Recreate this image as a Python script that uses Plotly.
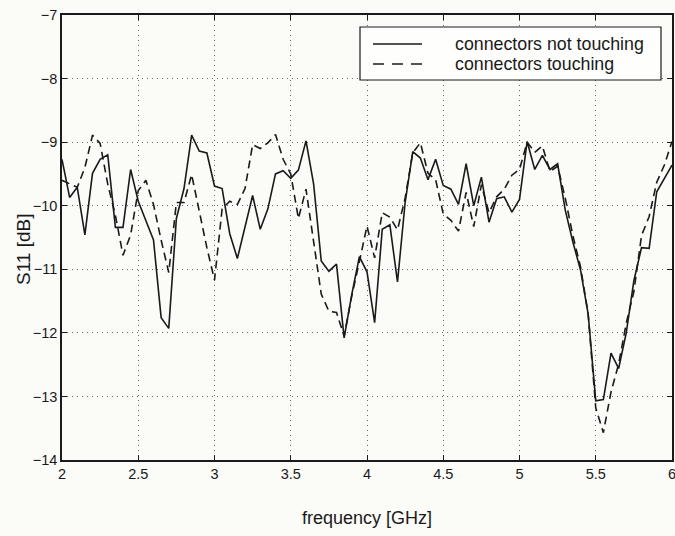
import plotly.graph_objects as go

freq_ghz = [2.00, 2.05, 2.10, 2.15, 2.20, 2.25, 2.30, 2.35, 2.40, 2.45,
            2.50, 2.55, 2.60, 2.65, 2.70, 2.75, 2.80, 2.85, 2.90, 2.95,
            3.00, 3.05, 3.10, 3.15, 3.20, 3.25, 3.30, 3.35, 3.40, 3.45,
            3.50, 3.55, 3.60, 3.65, 3.70, 3.75, 3.80, 3.85, 3.90, 3.95,
            4.00, 4.05, 4.10, 4.15, 4.20, 4.25, 4.30, 4.35, 4.40, 4.45,
            4.50, 4.55, 4.60, 4.65, 4.70, 4.75, 4.80, 4.85, 4.90, 4.95,
            5.00, 5.05, 5.10, 5.15, 5.20, 5.25, 5.30, 5.35, 5.40, 5.45,
            5.50, 5.55, 5.60, 5.65, 5.70, 5.75, 5.80, 5.85, 5.90, 5.95,
            6.00]

s11_not_touching = [-9.27, -9.87, -9.71, -10.46, -9.49, -9.27, -9.20, -10.34, -10.34, -9.43,
                    -9.93, -10.22, -10.54, -11.76, -11.93, -10.20, -9.73, -8.89, -9.14, -9.17,
                    -9.69, -9.73, -10.44, -10.83, -10.34, -9.84, -10.37, -10.05, -9.50, -9.45,
                    -9.57, -9.44, -8.98, -9.66, -10.87, -11.03, -10.92, -12.08, -11.40, -10.80,
                    -11.04, -11.84, -10.37, -10.30, -11.20, -9.95, -9.15, -9.25, -9.59, -9.27,
                    -9.68, -9.74, -9.98, -9.34, -10.00, -9.55, -10.26, -9.89, -9.86, -10.10,
                    -9.90, -8.99, -9.43, -9.21, -9.43, -9.34, -10.07, -10.57, -11.01, -11.70,
                    -13.07, -13.05, -12.32, -12.56, -12.00, -11.18, -10.66, -10.67, -9.78, -9.56,
                    -9.36]

s11_touching = [-9.60, -9.65, -9.71, -9.40, -8.89, -9.02, -9.66, -10.15, -10.78, -10.46,
                -9.76, -9.60, -9.98, -10.54, -11.05, -9.95, -9.95, -9.51, -10.10, -10.66,
                -11.17, -10.05, -9.93, -9.98, -9.73, -9.04, -9.10, -9.01, -8.88, -9.27,
                -9.50, -10.20, -9.74, -10.55, -11.39, -11.66, -11.68, -12.05, -11.42, -10.88,
                -10.32, -10.82, -10.11, -10.18, -10.38, -9.88, -9.17, -9.01, -9.49, -9.59,
                -10.13, -10.23, -10.40, -9.79, -10.33, -9.67, -10.11, -9.86, -9.74, -9.52,
                -9.43, -9.00, -9.16, -9.06, -9.46, -9.38, -9.88, -10.47, -10.96, -11.70,
                -13.18, -13.57, -12.93, -12.49, -11.85, -11.35, -10.47, -10.17, -9.63, -9.36,
                -8.99]

x_ticks = [2, 2.5, 3, 3.5, 4, 4.5, 5, 5.5, 6]
x_tick_text = ["2", "2.5", "3", "3.5", "4", "4.5", "5", "5.5", "6"]
y_ticks = [-14, -13, -12, -11, -10, -9, -8, -7]
y_tick_text = ["\u221214", "\u221213", "\u221212", "\u221211", "\u221210", "\u22129", "\u22128", "\u22127"]

series_names = ["connectors not touching", "connectors touching"]

BG = "#fbfbf7"
INK = "#1a1a1a"
FONT = "Liberation Sans, Arial, sans-serif"
DATA_DASH = "8px,5px"
LEGEND_DASH = "11px,8px"

# page geometry (pixels)
W, H = 675, 536
ML, MR, MT, MB = 62, 3, 15, 76
PW, PH = W - ML - MR, H - MT - MB


def px_x(px):
    return (px - ML) / PW


def px_y(py):
    return 1 - (py - MT) / PH


fig = go.Figure()
fig.add_trace(go.Scatter(
    x=freq_ghz, y=s11_not_touching, mode="lines",
    name=series_names[0], showlegend=False,
    line=dict(color=INK, width=1.6),
))
fig.add_trace(go.Scatter(
    x=freq_ghz, y=s11_touching, mode="lines",
    name=series_names[1], showlegend=False,
    line=dict(color=INK, width=1.6, dash=DATA_DASH),
))

axis_common = dict(
    showline=True, linecolor=INK, linewidth=1.5, mirror="allticks",
    ticks="inside", ticklen=5, tickwidth=1, tickcolor=INK,
    showgrid=True, gridcolor="#666666", gridwidth=1, griddash="1px,4px",
    zeroline=False, ticklabeloverflow="allow",
    tickfont=dict(family=FONT, size=14.5, color=INK),
)

fig.update_xaxes(
    range=[2, 6], tickvals=x_ticks, ticktext=x_tick_text,
    title=dict(text="frequency [GHz]", font=dict(family=FONT, size=18, color=INK), standoff=30),
    **axis_common,
)
fig.update_yaxes(
    range=[-14, -7], tickvals=y_ticks, ticktext=y_tick_text,
    **axis_common,
)

# y-axis title
fig.add_annotation(
    text="S11 [dB]", textangle=-90, showarrow=False,
    xref="paper", yref="paper", x=0, y=0.5, xanchor="center", yanchor="middle",
    xshift=23.5 - ML, yshift=-12,
    font=dict(family=FONT, size=19, color=INK),
)

# legend box (MATLAB style)
box_l, box_r, box_t, box_b = 360, 661, 27, 80
row_y = [44, 64]
sample_l, sample_r, text_l = 373, 422, 453
fig.add_shape(
    type="rect", xref="paper", yref="paper",
    x0=px_x(box_l), x1=px_x(box_r), y0=px_y(box_b), y1=px_y(box_t),
    line=dict(color=INK, width=1.2), fillcolor="#fefefc", layer="above",
)
for i, (name, dash) in enumerate(zip(series_names, ["solid", LEGEND_DASH])):
    fig.add_shape(
        type="line", xref="paper", yref="paper",
        x0=px_x(sample_l), x1=px_x(sample_r), y0=px_y(row_y[i]), y1=px_y(row_y[i]),
        line=dict(color=INK, width=1.6, dash=dash), layer="above",
    )
    fig.add_annotation(
        text=name, showarrow=False, xref="paper", yref="paper",
        x=px_x(text_l), y=px_y(row_y[i]), xanchor="left", yanchor="middle",
        font=dict(family=FONT, size=17.8, color=INK),
    )

fig.update_layout(
    width=W, height=H,
    margin=dict(l=ML, r=MR, t=MT, b=MB, autoexpand=False),
    paper_bgcolor=BG, plot_bgcolor=BG,
    showlegend=False,
)

fig.write_html("out.html")
